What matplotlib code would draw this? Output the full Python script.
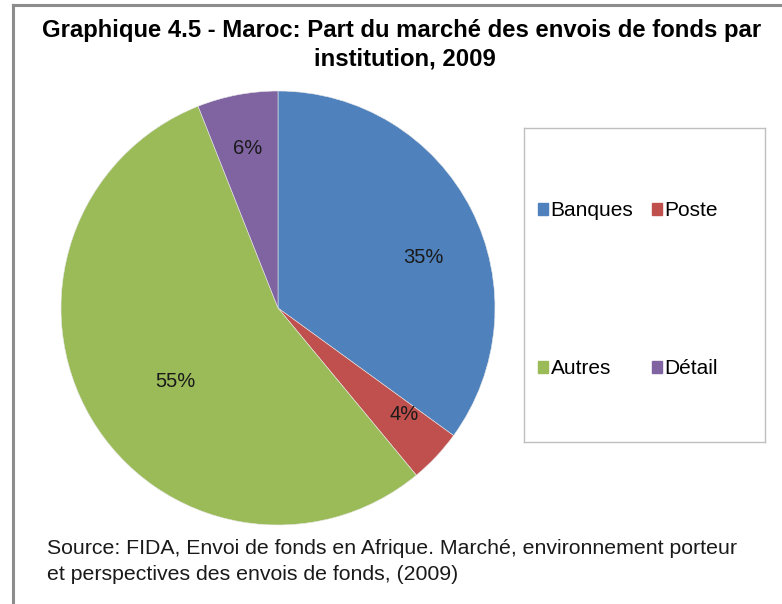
import matplotlib.pyplot as plt
import numpy as np

# Data
categories = ['Banques', 'Poste', 'Autres', 'Détail']
shares = [35, 4, 55, 6]
colors = ['#4F81BD', '#C0504D', '#9BBB59', '#8064A2']

# label placement (radius, angle offset in deg) - mimics Excel layout
label_r = [0.71, 0.76, 0.58, 0.75]
label_dang = [-8, 3, 5, 0]

plt.rcParams['font.family'] = ['Liberation Sans', 'DejaVu Sans']

W, H = 782, 604
fig = plt.figure(figsize=(W / 100, H / 100), dpi=100)

# frame lines (top and left, as in the cropped source)
fig.add_artist(plt.Line2D([12.5 / W, 12.5 / W], [0, 1 - 5 / H], color='#8c8c8c', lw=2.2))
fig.add_artist(plt.Line2D([12.5 / W, 1], [1 - 5 / H, 1 - 5 / H], color='#8c8c8c', lw=2.2))

# pie axes, centre (278, 308) px, radius 217 px
cx, cy, r = 278, 308, 217
ax = fig.add_axes([(cx - r) / W, (H - cy - r) / H, 2 * r / W, 2 * r / H])
wedges, _ = ax.pie(shares, colors=colors, startangle=90, counterclock=False,
                   radius=1, wedgeprops=dict(edgecolor='#e8e8e8', linewidth=0.4))
ax.set_xlim(-1, 1)
ax.set_ylim(-1, 1)
ax.set_aspect('auto')
ax.axis('off')

for w, val, rr, da in zip(wedges, shares, label_r, label_dang):
    ang = np.deg2rad((w.theta1 + w.theta2) / 2 + da)
    ax.text(rr * np.cos(ang), rr * np.sin(ang), f'{val}%', ha='center', va='center',
            fontsize=14.5, color='#1a1a1a')

# title
fig.text(402 / W, 1 - 31 / H, 'Graphique 4.5 - Maroc: Part du marché des envois de fonds par',
         ha='center', va='center', fontsize=17.2, fontweight='bold')
fig.text(405 / W, 1 - 59 / H, 'institution, 2009',
         ha='center', va='center', fontsize=17.2, fontweight='bold')

# legend box
lax = fig.add_axes([524 / W, 1 - 442 / H, 241 / W, 314 / H])
lax.set_xticks([])
lax.set_yticks([])
for s in lax.spines.values():
    s.set_edgecolor('#bfbfbf')
    s.set_linewidth(1)
handles = [plt.Rectangle((0, 0), 1, 1, color=c) for c in colors]
# legend fills column-wise: reorder so rows read Banques/Poste, Autres/Détail
order = [0, 2, 1, 3]
lax.legend([handles[i] for i in order], [categories[i] for i in order],
           loc='center left', bbox_to_anchor=(0.013, 0.485), ncol=2, frameon=False,
           fontsize=15, borderpad=0, handlelength=0.5, handleheight=0.5,
           handletextpad=0.12, columnspacing=0.88, labelspacing=6.65)

# source
fig.text(47 / W, 1 - 549 / H, 'Source: FIDA, Envoi de fonds en Afrique. Marché, environnement porteur',
         ha='left', va='center', fontsize=15.3, color='#1a1a1a')
fig.text(47 / W, 1 - 574 / H, 'et perspectives des envois de fonds, (2009)',
         ha='left', va='center', fontsize=15.3, color='#1a1a1a')

fig.savefig('out.png', dpi=100)
